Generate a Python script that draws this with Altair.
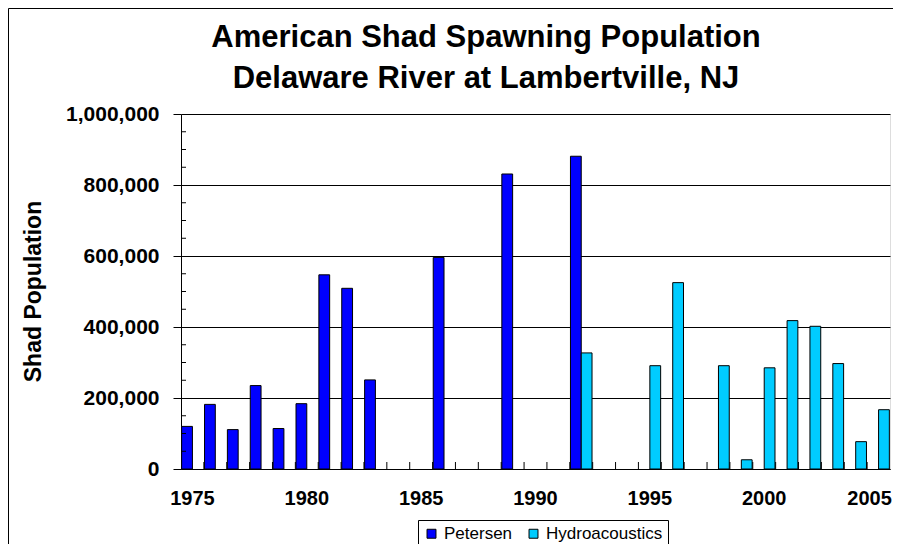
import altair as alt
import pandas as pd

# ---- data ----
years = list(range(1975, 2006))
petersen_years = [1975, 1976, 1977, 1978, 1979, 1980, 1981, 1982, 1983, 1986, 1989, 1992]
petersen_values = [120000, 182000, 111000, 235000, 114000, 184000, 547000, 509000, 251000, 596000, 831000, 881000]
hydro_years = [1992, 1995, 1996, 1998, 1999, 2000, 2001, 2002, 2003, 2004, 2005]
hydro_values = [327000, 291000, 525000, 291000, 26000, 285000, 418000, 402000, 297000, 77000, 167000]
series_names = ["Petersen", "Hydroacoustics"]
series_colors = ["#0000FF", "#00CCFF"]
label_years = [1975, 1980, 1985, 1990, 1995, 2000, 2005]
major_ticks = [0, 200000, 400000, 600000, 800000, 1000000]
minor_ticks = [50000, 100000, 150000, 250000, 300000, 350000, 450000, 500000, 550000,
               650000, 700000, 750000, 850000, 900000, 950000]
title_lines = ["American Shad Spawning Population", "Delaware River at Lambertville, NJ"]
y_title = "Shad Population"

FONT = "Liberation Sans"
W, H = 709, 355

bars_df = pd.DataFrame(
    {"year": petersen_years + hydro_years,
     "value": petersen_values + hydro_values,
     "series": [series_names[0]] * len(petersen_years) + [series_names[1]] * len(hydro_years)}
)
minor_df = pd.DataFrame({"value": minor_ticks})
xtick_df = pd.DataFrame({"year": years[1:]})
one_df = pd.DataFrame({"a": [0]})

x_scale = alt.Scale(domain=years, paddingInner=0, paddingOuter=0)
y_scale = alt.Scale(domain=[0, 1000000], nice=False, zero=True)

x_axis = alt.Axis(values=label_years, ticks=False, labelAngle=0, labelFont=FONT,
                  labelFontSize=20, labelFontWeight="bold", labelColor="black",
                  labelPadding=19, domainColor="black", domainWidth=1, title=None,
                  grid=False,
                  labelOffset={"condition": {"test": "datum.value == 2005", "value": -9},
                               "value": 0})
y_axis = alt.Axis(values=major_ticks, format=",d", tickSize=8, tickColor="black",
                  labelFont=FONT, labelFontSize=21, labelFontWeight="bold",
                  labelColor="black", labelPadding=14, grid=True, gridColor="black",
                  gridOpacity=1, gridWidth=1, domainColor="black", domainWidth=1,
                  title=y_title, titleFont=FONT, titleFontSize=23,
                  titleFontWeight="bold", titleColor="black", titleAngle=270,
                  titleX=-148, titleY=177, titleAlign="center",
                  titleBaseline="middle")

bars = alt.Chart(bars_df).mark_bar(stroke="black", strokeWidth=1, opacity=1).encode(
    x=alt.X("year:O", scale=x_scale, sort=None, axis=x_axis),
    xOffset=alt.XOffset("series:N", sort=series_names,
                        scale=alt.Scale(domain=series_names, paddingInner=0, paddingOuter=0.06)),
    y=alt.Y("value:Q", scale=y_scale, axis=y_axis),
    color=alt.Color("series:N", sort=series_names,
                    scale=alt.Scale(domain=series_names, range=series_colors),
                    legend=alt.Legend(orient="none", legendX=237, legendY=406,
                                      direction="horizontal", title=None,
                                      strokeColor="black", fillColor="white", padding=5,
                                      labelFont=FONT, labelFontSize=17, labelColor="black",
                                      symbolType="square", symbolSize=80,
                                      symbolStrokeColor="black", symbolStrokeWidth=1,
                                      symbolOpacity=1, columnPadding=12, labelOffset=4)),
)

minor = alt.Chart(minor_df).mark_rule(color="black", strokeWidth=1).encode(
    y=alt.Y("value:Q", scale=y_scale, axis=y_axis),
    x=alt.value(0),
    x2=alt.value(5),
)

xticks = alt.Chart(xtick_df).mark_rule(color="black", strokeWidth=1).encode(
    x=alt.X("year:O", scale=x_scale, sort=None, bandPosition=0, axis=x_axis),
    y=alt.value(H),
    y2=alt.value(H - 7),
)

border = alt.Chart(one_df).mark_rect(fillOpacity=0, stroke="black", strokeWidth=1).encode(
    x=alt.value(-172.5), x2=alt.value(800), y=alt.value(-105.5), y2=alt.value(600)
)

title = alt.Chart(one_df).mark_text(
    text=title_lines, font=FONT, fontSize=31, fontWeight="bold", align="center",
    baseline="alphabetic", lineHeight=41, color="black"
).encode(x=alt.value(305), y=alt.value(-66.7))

chart = alt.layer(border, bars, minor, xticks, title).properties(
    width=W, height=H,
    padding={"left": 173, "top": 106, "right": 3, "bottom": 75},
    autosize=alt.AutoSizeParams(type="none"),
).configure_view(stroke="#808080", strokeWidth=1).configure(font=FONT)

chart.save("out.html", embed_options={"renderer": "svg", "actions": False})
